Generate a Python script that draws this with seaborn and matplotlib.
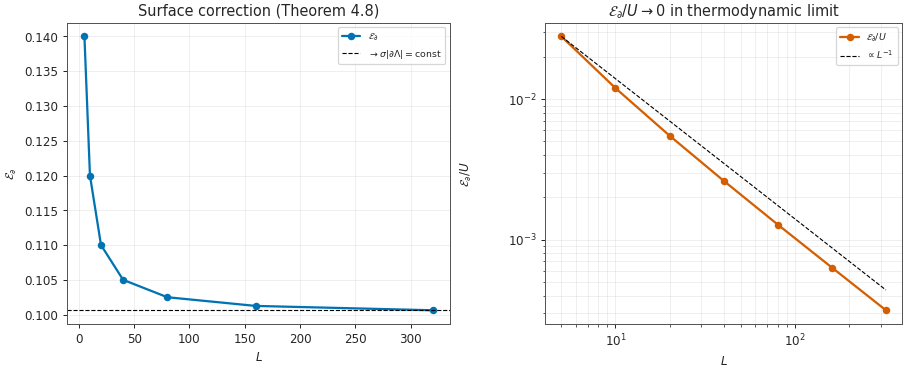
import numpy as np
import pandas as pd
import seaborn as sns
import matplotlib.pyplot as plt

# system sizes and surface correction values
L_vals = [5, 10, 20, 40, 80, 160, 320]
E_surf = [0.14, 0.12, 0.11, 0.105, 0.1025, 0.10125, 0.100625]
E_const = 0.100625
E_over_U = [0.028, 0.012, 0.0055, 0.002625, 0.00128, 0.000633, 0.000314]
ref_line = [0.028, 0.014, 0.007, 0.0035, 0.00175, 0.000875, 0.0004375]

sns.set_style("ticks")
plt.rcParams['font.family'] = ['DejaVu Sans']
plt.rcParams['mathtext.fontset'] = 'dejavusans'
plt.rcParams['axes.edgecolor'] = '#555555'
plt.rcParams['xtick.labelsize'] = 9.5
plt.rcParams['ytick.labelsize'] = 9.5
plt.rcParams['axes.titlesize'] = 11.6
plt.rcParams['axes.labelsize'] = 9.5

blue = sns.color_palette("colorblind")[0]
orange = sns.color_palette("colorblind")[3]

df = pd.DataFrame({"L": L_vals, "E": E_surf, "EU": E_over_U, "ref": ref_line})

fig, (ax1, ax2) = plt.subplots(1, 2, figsize=(10.08, 4.07), dpi=90)
ax1.set_position([67 / 907, 1 - 324 / 366, 383 / 907, 301 / 366])
ax2.set_position([545 / 907, 1 - 324 / 366, 357 / 907, 301 / 366])

sns.lineplot(data=df, x="L", y="E", marker="o", color=blue, lw=1.8, markersize=6,
             markeredgewidth=0, label=r"$\mathcal{E}_\partial$", ax=ax1)
ax1.axhline(E_const, color="black", ls="--", lw=0.9,
            label=r"$\to \sigma|\partial\Lambda| = \mathrm{const}$")
ax1.set_title("Surface correction (Theorem 4.8)")
ax1.set_xlabel(r"$L$")
ax1.set_ylabel(r"$\mathcal{E}_\partial$")
ax1.grid(True, alpha=0.3)
ax1.legend(fontsize=7.5, loc="upper right")

sns.lineplot(data=df, x="L", y="EU", marker="o", color=orange, lw=1.8, markersize=6,
             markeredgewidth=0, label=r"$\mathcal{E}_\partial/U$", ax=ax2)
sns.lineplot(data=df, x="L", y="ref", color="black", ls="--", lw=0.9,
             label=r"$\propto L^{-1}$", ax=ax2)
ax2.set_xscale("log")
ax2.set_yscale("log")
ax2.set_title(r"$\mathcal{E}_\partial/U \to 0$ in thermodynamic limit")
ax2.set_xlabel(r"$L$")
ax2.set_ylabel(r"$\mathcal{E}_\partial/U$")
ax2.yaxis.set_label_coords(-0.2, 0.5)
ax2.grid(True, which="both", alpha=0.3)
ax2.legend(fontsize=7.5, loc="upper right")

fig.savefig("out.png", dpi=90)
